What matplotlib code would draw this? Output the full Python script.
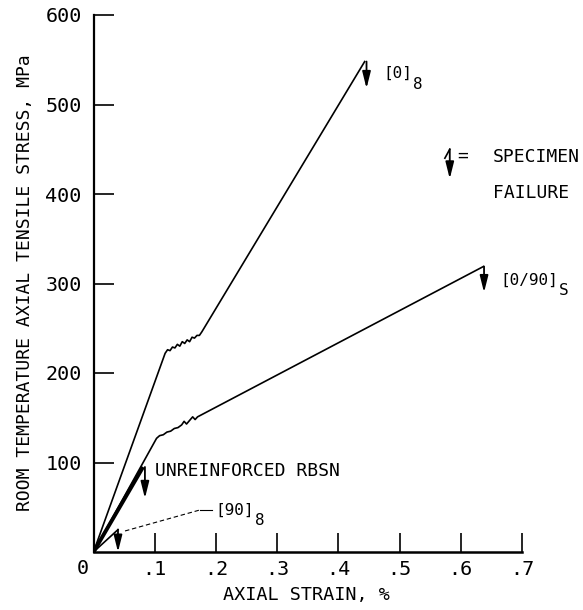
import matplotlib
matplotlib.use("Agg")
import matplotlib.pyplot as plt

# ---- data (strain %, stress MPa) ----
strain_0 = [0.0, 0.117, 0.121, 0.125, 0.129, 0.133, 0.137, 0.141, 0.145, 0.149,
            0.153, 0.157, 0.161, 0.165, 0.169, 0.173, 0.177, 0.443]
stress_0 = [0.0, 222, 226, 225, 229, 228, 232, 230, 235, 233,
            237, 235, 240, 239, 242, 242, 246, 548]

strain_090 = [0.0, 0.103, 0.108, 0.114, 0.120, 0.126, 0.132, 0.138, 0.144, 0.148,
              0.152, 0.157, 0.162, 0.166, 0.170, 0.637]
stress_090 = [0.0, 127, 130, 131, 134, 135, 138, 139, 142, 146,
              143, 147, 151, 148, 151, 319]

strain_rbsn = [0.0, 0.081]
stress_rbsn = [0.0, 95]

strain_90 = [0.0, 0.040]
stress_90 = [0.0, 25]

xticks = [0.1, 0.2, 0.3, 0.4, 0.5, 0.6, 0.7]
xtick_labels = [".1", ".2", ".3", ".4", ".5", ".6", ".7"]
yticks = [100, 200, 300, 400, 500, 600]
ytick_labels = ["100", "200", "300", "400", "500", "600"]

FONT = "DejaVu Sans Mono"
plt.rcParams["font.family"] = [FONT, "DejaVu Sans"]

fig = plt.figure(figsize=(5.83, 6.10), dpi=100)
ax = fig.add_axes([93.5 / 583, 58 / 610, (522 - 93.5) / 583, (552 - 15) / 610])

ax.plot(strain_0, stress_0, color="black", lw=1.2)
ax.plot(strain_090, stress_090, color="black", lw=1.2)
ax.plot(strain_rbsn, stress_rbsn, color="black", lw=2.8, solid_capstyle="butt")
ax.plot(strain_90, stress_90, color="black", lw=1.2)

ax.set_xlim(0, 0.7)
ax.set_ylim(0, 600)
for s in ("top", "right"):
    ax.spines[s].set_visible(False)
ax.spines["left"].set_linewidth(1.6)
ax.spines["bottom"].set_linewidth(1.8)

ax.set_xticks(xticks)
ax.set_xticklabels(xtick_labels)
ax.set_yticks(yticks)
ax.set_yticklabels(ytick_labels)
ax.tick_params(axis="x", direction="in", length=13.5, width=1.2, pad=5.5, labelsize=14.5)
ax.tick_params(axis="y", direction="in", length=14.5, width=1.2, pad=8.5, labelsize=14.5)

ax.annotate("0", xy=(0, 0), xytext=(-11, -16), textcoords="offset pixels",
            ha="center", va="center", fontsize=14.5)

ap = dict(arrowstyle="-|>,head_length=1.0,head_width=0.25", color="black",
          lw=1.3, shrinkA=0, shrinkB=0)


def fail_arrow(x, y, length, dx=0.0):
    ax.annotate("", xy=(x + dx, y - length), xytext=(x + dx, y), arrowprops=ap)


fail_arrow(strain_0[-1], stress_0[-1], 30, 0.003)
fail_arrow(strain_090[-1], stress_090[-1], 29, 0.001)
fail_arrow(strain_rbsn[-1], stress_rbsn[-1], 35, 0.003)
fail_arrow(strain_90[-1], stress_90[-1], 25, 0.0)


def sub_label(x, y, main, sub, size):
    ax.text(x, y, main, fontsize=size, ha="left", va="center")
    cw = 0.602 * size * 100 / 72
    ax.annotate(sub, xy=(x, y), xytext=(len(main) * cw + 1, -11),
                textcoords="offset pixels", fontsize=size, ha="left", va="center")


sub_label(0.473, 535, "[0]", "8", 11.5)
sub_label(0.664, 304, "[0/90]", "S", 11.5)
sub_label(0.199, 47, "[90]", "8", 11.5)

ax.plot([0.0515, 0.174], [23.5, 47], color="black", lw=0.8, ls=(0, (4, 2.5)))
ax.plot([0.174, 0.193], [47, 47], color="black", lw=0.8)

ax.text(0.1005, 90, "UNREINFORCED RBSN", fontsize=13, ha="left", va="center")

# legend symbol
ax.plot([0.574, 0.582], [440, 450], color="black", lw=1.2, clip_on=False)
ax.annotate("", xy=(0.582, 417), xytext=(0.582, 450), arrowprops=ap)
ax.text(0.595, 443, "=", fontsize=13, ha="left", va="center")
ax.text(0.653, 441, "SPECIMEN", fontsize=13, ha="left", va="center", clip_on=False)
ax.text(0.653, 401, "FAILURE", fontsize=13, ha="left", va="center", clip_on=False)

fig.text(306 / 583, 15 / 610, "AXIAL STRAIN, %", fontsize=13.3, ha="center", va="center")
fig.text(25 / 583, (610 - 283) / 610, "ROOM TEMPERATURE AXIAL TENSILE STRESS, MPa",
         fontsize=13, rotation=90, ha="center", va="center")

fig.savefig("out.png", dpi=100)
